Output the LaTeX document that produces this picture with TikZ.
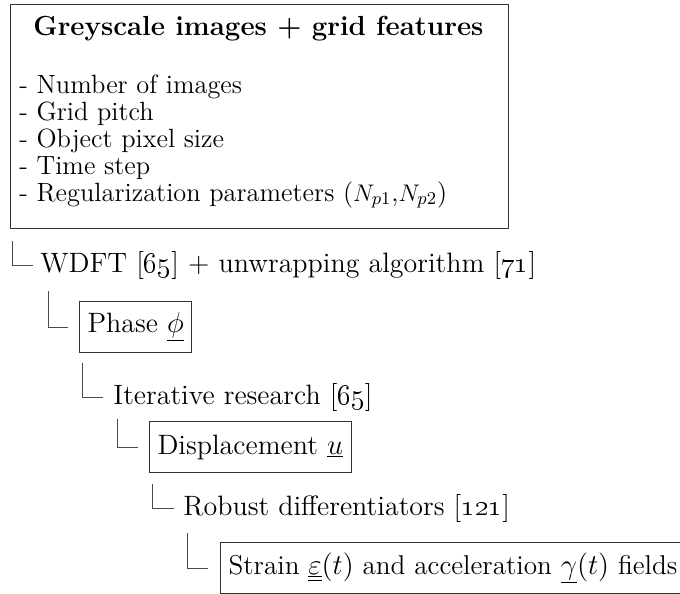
\documentclass[tikz,border=0pt]{standalone}
\usetikzlibrary{calc}

\tikzset{
  treetext/.style={anchor=west, inner sep=0pt, font=\fontsize{14}{17}\selectfont},
  treebox/.style={anchor=west, draw=black!80, line width=0.5pt,
    inner xsep=4pt, inner ysep=0pt, minimum height=25.5pt,
    font=\fontsize{14}{17}\selectfont},
  listitem/.style={anchor=base west, inner sep=0pt, font=\fontsize{13.2}{15}\selectfont},
  branch/.style={draw=black!70, line width=0.5pt},
}

\begin{document}
\begin{tikzpicture}[x=0.5pt,y=-0.5pt]
  \useasboundingbox (0,0) rectangle (680,594);
  \clip (0,0) rectangle (680,594);

  % header box with the input data
  \node[draw=black!80, line width=0.7pt, anchor=north west, inner sep=0pt,
        minimum width=249pt, minimum height=112pt] (head) at (10,4) {};
  \node[anchor=base west, inner sep=0pt, font=\bfseries\fontsize{13.8}{16}\selectfont]
        (title) at (33,35) {Greyscale images + grid features};
  \node[listitem] (l1) at (19,93)  {- Number of images};
  \node[listitem] (l2) at (19,120) {- Grid pitch};
  \node[listitem] (l3) at (19,147) {- Object pixel size};
  \node[listitem] (l4) at (19,174) {- Time step};
  \node[listitem] (l5) at (19,201) {- Regularization parameters ($N_{p1}$,$N_{p2}$)};

  % processing chain
  \node[treetext] (wdft)   at (40,265)  {WDFT [\oldstylenums{65}] + unwrapping algorithm [\oldstylenums{71}]};
  \node[treebox]  (phase)  at (79,327)  {Phase $\underline{\phi}$};
  \node[treetext] (iter)   at (113,397) {Iterative research [\oldstylenums{65}]};
  \node[treebox]  (disp)   at (149,447) {Displacement $\underline{u}$};
  \node[treetext] (robust) at (183,508) {Robust differentiators [\oldstylenums{121}]};
  \node[treebox, font=\fontsize{13.6}{17}\selectfont]
                  (strain) at (220,568) {Strain $\underline{\underline{\varepsilon}}(t)$ and acceleration $\underline{\gamma}(t)$ fields};

  % tree branches
  \draw[branch] ($(head.south west)+(2,12)$)  |- ($(wdft.west)+(-7,0)$);
  \draw[branch] ($(wdft.south west)+(8,12)$)  |- ($(phase.west)+(-11,0)$);
  \draw[branch] ($(phase.south west)+(3,10)$) |- ($(iter.west)+(-10,0)$);
  \draw[branch] ($(iter.south west)+(4,8)$)   |- ($(disp.west)+(-11,0)$);
  \draw[branch] ($(disp.south west)+(3,11)$)  |- ($(robust.west)+(-9,0)$);
  \draw[branch] ($(robust.south west)+(4,11)$) |- ($(strain.west)+(-12,0)$);
\end{tikzpicture}
\end{document}
